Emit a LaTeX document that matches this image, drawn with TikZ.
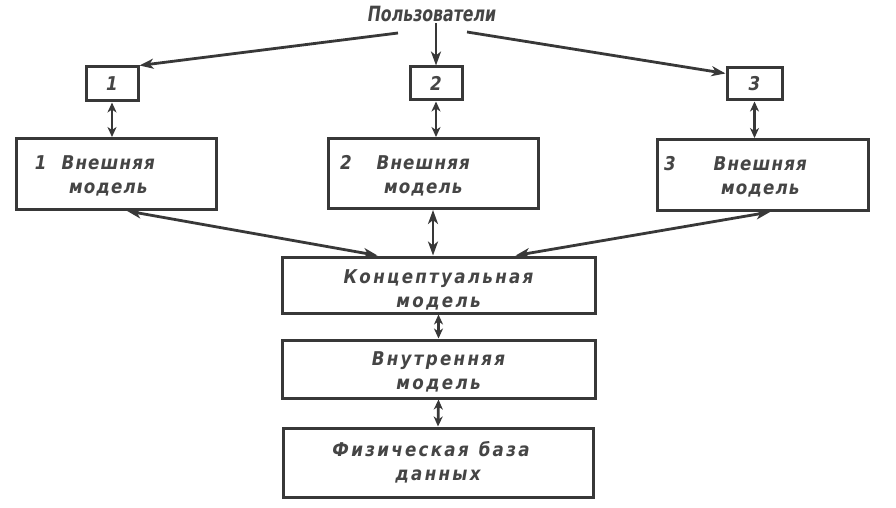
\documentclass[tikz,border=0pt]{standalone}
\usepackage{fontspec}
\setmainfont{DejaVu Sans}
\newfontfamily\stencil{DejaVu Sans}[FakeStretch=0.88,LetterSpace=6]
\newfontfamily\stencilwide{DejaVu Sans}[FakeStretch=0.88,LetterSpace=12]
\newfontfamily\stenciltitle{DejaVu Sans}[FakeStretch=0.75]
\usetikzlibrary{arrows.meta,calc}
\definecolor{ink}{HTML}{383838}
\definecolor{txt}{HTML}{454545}
\newcommand{\extcontent}[3]{\rule{0pt}{23pt}\hspace*{#1pt}#2\hspace{#3pt}\begin{tabular}[t]{@{}c@{}}Внешняя\\модель\end{tabular}}
\tikzset{
  box/.style={draw=ink, line width=3pt, rectangle, inner sep=0pt, text=txt,
    font={\stencil\bfseries\itshape\fontsize{19}{24}\selectfont}},
  widebox/.style={box, font={\stencilwide\bfseries\itshape\fontsize{19}{24}\selectfont}},
  smallbox/.style={box, font={\stencil\bfseries\itshape\fontsize{19}{24}\selectfont}},
  conn/.style={draw=ink, line width=2.8pt, -{Stealth[length=14pt,width=10pt,inset=4pt]}},
  bconn/.style={draw=ink, line width=2.8pt, {Stealth[length=14pt,width=10pt,inset=4pt]}-{Stealth[length=14pt,width=10pt,inset=4pt]}},
  sconn/.style={draw=ink, line width=2.8pt, {Stealth[length=10pt,width=9pt,inset=3pt]}-{Stealth[length=10pt,width=9pt,inset=3pt]}}
}
\begin{document}
\begin{tikzpicture}[x=1pt,y=-1pt]
\useasboundingbox[fill=white] (0,0) rectangle (896,508);

% title
\node[text=txt, font={\stenciltitle\bfseries\itshape\fontsize{21}{24}\selectfont}, inner sep=1pt] (users) at (432,14) {Пользователи};
\coordinate (uL) at (398,33);
\coordinate (uR) at (467,32);

% small boxes
\node[smallbox, minimum width=52, minimum height=34] (b1) at (112,84) {1};
\node[smallbox, minimum width=52, minimum height=33] (b2) at (436,83.5) {2};
\node[smallbox, minimum width=55, minimum height=32] (b3) at (754.5,84) {3};

% external models
\node[box, minimum width=200, minimum height=71, text width=200pt, align=left] (e1) at (116,174) {\extcontent{19}{1}{15}};
\node[box, minimum width=210, minimum height=70, text width=210pt, align=left] (e2) at (433,173.5) {\extcontent{12}{2}{25}};
\node[box, minimum width=211, minimum height=71, text width=211pt, align=left] (e3) at (762.5,175) {\extcontent{7}{3}{38}};

% central column
\node[widebox, minimum width=313, minimum height=56, align=center] (conc) at (438.5,285) {\rule{0pt}{24pt}Концептуальная\\модель};
\node[widebox, minimum width=313, minimum height=58, align=center] (intern) at (438.5,369) {\rule{0pt}{19pt}Внутренняя\\модель};
\node[widebox, minimum width=310, minimum height=69, align=center] (phys) at (438,462.5) {\hspace*{-14pt}Физическая\hspace{10pt}база\\данных};

% connectors from users
\draw[conn] (uL) -- (b1.north east);
\draw[conn] (uR) -- (b3.160);
\draw[conn] (users.south -| b2.north) -- (b2.north);

% small boxes to external models
\draw[sconn] (b1.south) -- (b1.south |- e1.north);
\draw[sconn] (b2.south) -- (b2.south |- e2.north);
\draw[sconn] (b3.south) -- (b3.south |- e3.north);

% external models to conceptual
\draw[bconn] ($(e1.south west)!0.555!(e1.south east)$) -- ($(conc.north west)!0.307!(conc.north east)$);
\draw[bconn] ($(e3.south west)!0.535!(e3.south east)$) -- ($(conc.north west)!0.744!(conc.north east)$);
\draw[bconn] (e2.south) -- (e2.south |- conc.north);

% down the column
\draw[sconn] (conc.south) -- (intern.north);
\draw[sconn] (intern.south) -- (phys.north);
\end{tikzpicture}
\end{document}
